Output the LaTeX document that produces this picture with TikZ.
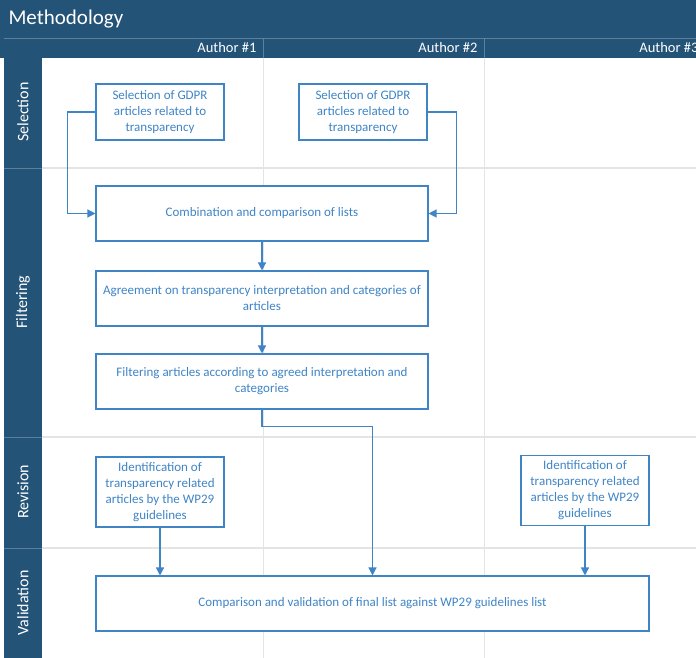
\documentclass[tikz,border=0pt]{standalone}
\usepackage{fontspec}
\setmainfont{Carlito}
\usetikzlibrary{arrows.meta}
\definecolor{laneblue}{HTML}{245378}
\definecolor{lanerule}{HTML}{5D7F9C}
\definecolor{boxblue}{HTML}{3F85C6}
\definecolor{gridgray}{HTML}{E4E4E4}

\begin{document}
\begin{tikzpicture}[x=1pt,y=-1pt,
  stepbox/.style={draw=boxblue, line width=1.1pt, text=boxblue, fill=white,
    align=center, inner sep=0pt, font=\fontsize{13}{16}\selectfont},
  smallbox/.style={stepbox, minimum width=128, minimum height=56},
  widebox/.style={stepbox, minimum width=332, minimum height=55},
  flow/.style={draw=boxblue, line width=1.3pt, -{Triangle[length=8pt,width=8pt]}},
  lanelabel/.style={text=white, rotate=90, font=\fontsize{16}{18}\selectfont},
  author/.style={text=white, anchor=east, font=\fontsize{14.5}{16}\selectfont}]
\useasboundingbox (0,0) rectangle (696,658);
\fill[white] (0,0) rectangle (696,658);

% grid
\draw[gridgray, line width=1pt] (263,58) -- (263,658) (484,58) -- (484,658);
\draw[gridgray, line width=1.6pt] (42,168) -- (696,168) (42,437) -- (696,437)
  (42,548) -- (696,548);

% title and header
\fill[laneblue] (0,0) rectangle (696,58);
\draw[lanerule] (4,38) -- (696,38) (263,38) -- (263,58) (484,38) -- (484,58);
\node[text=white, anchor=west, font=\fontsize{21}{24}\selectfont] (title) at (5,19) {Methodology};
\node[author] (a1) at (260,48) {Author \#1};
\node[author] (a2) at (481,48) {Author \#2};
\node[author] (a3) at (702,48) {Author \#3};

% lanes
\fill[laneblue] (4,58) rectangle (42,658);
\draw[lanerule] (4,168) -- (42,168) (4,437) -- (42,437) (4,548) -- (42,548);
\node[lanelabel] (lsel) at (23,112) {Selection};
\node[lanelabel] (lfilt) at (23,302) {Filtering};
\node[lanelabel] (lrev) at (23,492) {Revision};
\node[lanelabel] (lval) at (23,603) {Validation};

% steps
\node[smallbox] (sel1) at (160,112) {Selection of GDPR\\articles related to\\transparency};
\node[smallbox] (sel2) at (363,112) {Selection of GDPR\\articles related to\\transparency};
\node[widebox] (comb) at (262,213.5) {Combination and comparison of lists};
\node[widebox] (agree) at (262,298.5) {Agreement on transparency interpretation and categories of\\articles};
\node[widebox] (filt) at (262,381.5) {Filtering articles according to agreed interpretation and\\categories};
\node[smallbox, minimum height=70] (rev1) at (160,492) {Identification of\\transparency related\\articles by the WP29\\guidelines};
\node[smallbox, minimum height=70] (rev3) at (585,490.5) {Identification of\\transparency related\\articles by the WP29\\guidelines};
\node[stepbox, minimum width=553, minimum height=55] (valid) at (372.5,603.5) {Comparison and validation of final list against WP29 guidelines list};

% connectors
\draw[flow] (sel1.west) -- ++(-28,0) |- (comb.west);
\draw[flow] (sel2.east) -- ++(29,0) |- (comb.east);
\draw[flow] (comb) -- (agree);
\draw[flow] (agree) -- (filt);
\draw[flow] (filt.south) -- ++(0,17) -| (valid.north);
\draw[flow] (rev1.south) -- (rev1.south |- valid.north);
\draw[flow] (rev3.south) -- (rev3.south |- valid.north);
\end{tikzpicture}
\end{document}
